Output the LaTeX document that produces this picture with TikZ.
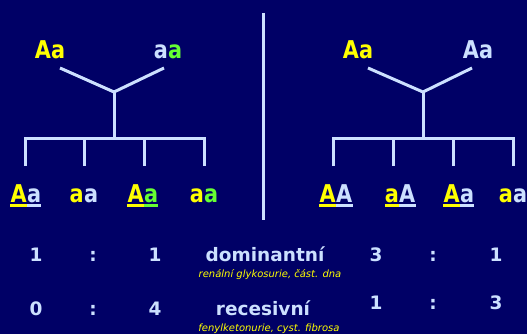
\documentclass[tikz,border=0pt]{standalone}
\usepackage{fontspec}
\setmainfont{DejaVu Sans}
\newfontfamily\narrowbold[FakeStretch=0.85]{DejaVu Sans Bold}
\definecolor{bg}{RGB}{0,0,102}
\definecolor{lb}{RGB}{204,224,255}
\definecolor{yl}{RGB}{255,255,0}
\definecolor{gr}{RGB}{102,255,51}
\begin{document}
\begin{tikzpicture}[x=1pt,y=-1pt,
  tree/.style={draw=lb,line width=3pt},
  big/.style={font=\narrowbold\fontsize{24.5}{27}\selectfont, inner sep=0pt},
  num/.style={font=\fontsize{18.5}{20}\selectfont\bfseries, text=lb, inner sep=0pt, anchor=base},
  sub/.style={font=\fontsize{10}{12}\selectfont\itshape, text=yl, inner sep=0pt, anchor=base}]
\fill[bg] (0,0) rectangle (527,334);
\useasboundingbox (0,0) rectangle (527,334);
% divider
\coordinate (dvt) at (263,13);
\coordinate (dvb) at (263,220);
\draw[lb,line width=3pt] (dvt) -- (dvb);
% ---------- left tree ----------
\node[big,anchor=base] (pl1) at (50,59) {\textcolor{yl}{Aa}};
\node[big,anchor=base] (pl2) at (168,59) {\textcolor{lb}{a}\textcolor{gr}{a}};
\coordinate (el1) at (60,68);
\coordinate (el2) at (164,68);
\coordinate (jl) at (114,92);
\coordinate (bl) at (114,138);
\draw[tree] (el1) -- (jl) -- (el2);
\draw[tree] (jl) -- (bl);
\coordinate (dl1) at (25,166);
\coordinate (dl2) at (84,166);
\coordinate (dl3) at (144,166);
\coordinate (dl4) at (204,166);
\draw[tree] (dl1) -- (dl1 |- bl) -- (dl4 |- bl) -- (dl4);
\draw[tree] (dl2 |- bl) -- (dl2);
\draw[tree] (dl3 |- bl) -- (dl3);
% ---------- right tree ----------
\node[big,anchor=base] (pr1) at (358,59) {\textcolor{yl}{Aa}};
\node[big,anchor=base] (pr2) at (478,59) {\textcolor{lb}{Aa}};
\coordinate (er1) at (368,68);
\coordinate (er2) at (472,68);
\coordinate (jr) at (423,92);
\coordinate (br) at (423,138);
\draw[tree] (er1) -- (jr) -- (er2);
\draw[tree] (jr) -- (br);
\coordinate (dr1) at (333,166);
\coordinate (dr2) at (393,166);
\coordinate (dr3) at (453,166);
\coordinate (dr4) at (513,166);
\draw[tree] (dr1) -- (dr1 |- br) -- (dr4 |- br) -- (dr4);
\draw[tree] (dr2 |- br) -- (dr2);
\draw[tree] (dr3 |- br) -- (dr3);
% ---------- children ----------
% left
\node[big,anchor=base east,text=yl] (c1a) at (27,202) {A};
\node[big,anchor=base west,text=lb] (c1b) at (27,202) {a};
\node[big,anchor=base east,text=yl] (c2a) at (84,202) {a};
\node[big,anchor=base west,text=lb] (c2b) at (84,202) {a};
\node[big,anchor=base east,text=yl] (c3a) at (144,202) {A};
\node[big,anchor=base west,text=gr] (c3b) at (144,202) {a};
\node[big,anchor=base east,text=yl] (c4a) at (204,202) {a};
\node[big,anchor=base west,text=gr] (c4b) at (204,202) {a};
% right
\node[big,anchor=base east,text=yl] (c5a) at (336,202) {A};
\node[big,anchor=base west,text=lb] (c5b) at (336,202) {A};
\node[big,anchor=base east,text=yl] (c6a) at (399,202) {a};
\node[big,anchor=base west,text=lb] (c6b) at (399,202) {A};
\node[big,anchor=base east,text=yl] (c7a) at (460,202) {A};
\node[big,anchor=base west,text=lb] (c7b) at (460,202) {a};
\node[big,anchor=base east,text=yl] (c8a) at (513,202) {a};
\node[big,anchor=base west,text=lb] (c8b) at (513,202) {a};
% underlines
\foreach \n/\c in {c1a/yl,c1b/lb,c3a/yl,c3b/gr,c5a/yl,c5b/lb,c6a/yl,c6b/lb,c7a/yl,c7b/lb}
  \fill[\c] ([yshift=-2pt]\n.base west) rectangle ([yshift=-5pt]\n.base east);
% ---------- ratios ----------
\node[num] (r1a) at (36,261) {1};
\node[num] (r1b) at (93,261) {:};
\node[num] (r1c) at (155,261) {1};
\node[num] (dom) at (265,261) {dominantní};
\node[num] (r1d) at (376,261) {3};
\node[num] (r1e) at (433,261) {:};
\node[num] (r1f) at (496,261) {1};
\node[sub] (s1) at (270,277) {renální glykosurie, část. dna};
\node[num] (r2a) at (36,315) {0};
\node[num] (r2b) at (93,315) {:};
\node[num] (r2c) at (155,315) {4};
\node[num] (rec) at (263,315) {recesivní};
\node[num] (r2d) at (376,309) {1};
\node[num] (r2e) at (433,309) {:};
\node[num] (r2f) at (496,309) {3};
\node[sub] (s2) at (269,331) {fenylketonurie, cyst. fibrosa};
\end{tikzpicture}
\end{document}
